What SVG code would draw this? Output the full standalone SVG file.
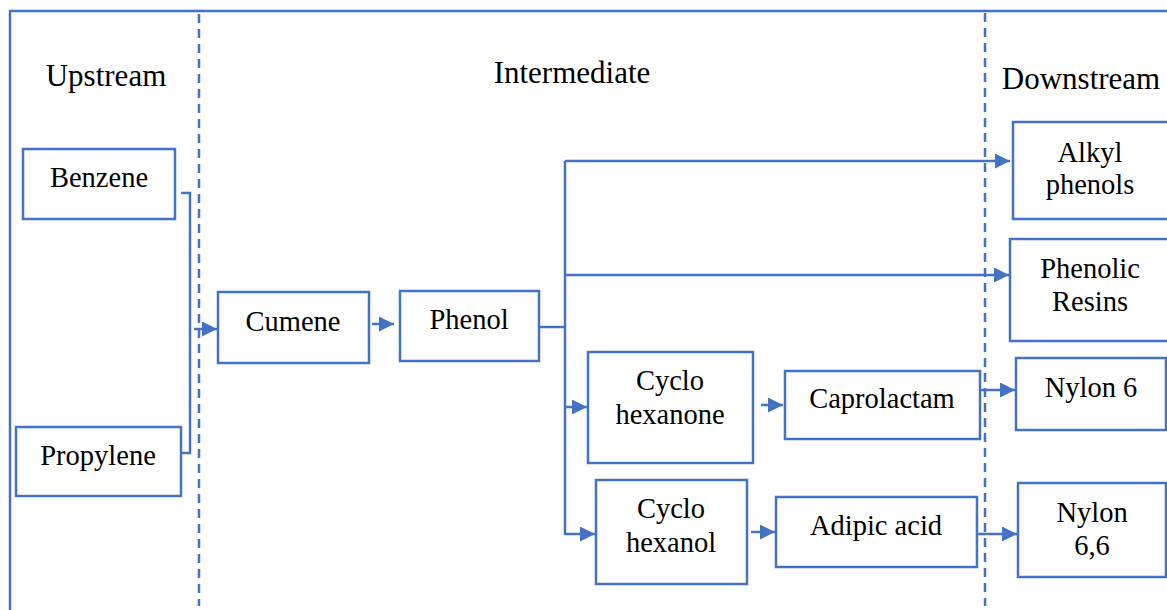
<svg xmlns="http://www.w3.org/2000/svg" width="1167" height="610" viewBox="0 0 1167 610" font-family="'Liberation Serif', 'Times New Roman', serif">
<defs>
<style>
.box{fill:#fff;stroke:#4472C4;stroke-width:2.5}
.ln{fill:none;stroke:#4472C4;stroke-width:2.5}
.dash{fill:none;stroke:#4472C4;stroke-width:2.5;stroke-dasharray:9 6}
text{font-family:'Liberation Serif', serif;fill:#000;text-anchor:middle}
.t{font-size:28.5px}
.h{font-size:31px}
</style>
<marker id="ah" viewBox="0 0 10 10" refX="10" refY="5" markerWidth="6.5" markerHeight="6" markerUnits="strokeWidth" orient="auto">
<path d="M0,0 L10,5 L0,10 z" fill="#4472C4"/>
</marker>
</defs>
<rect width="1167" height="610" fill="#fff"/>
<g id="frame">
<path class="ln" d="M10,610 V11 H1167"/>
<path class="dash" d="M199,14 V606"/>
<path class="dash" d="M985,13 V606"/>
<text class="h" x="106" y="86">Upstream</text>
<text class="h" x="572" y="83">Intermediate</text>
<text class="h" x="1081" y="89">Downstream</text>
</g>
<g id="connectors">
<path class="ln" d="M181,193 H190 V453 H181"/>
<path class="ln" marker-end="url(#ah)" d="M194,329 H217"/>
<path class="ln" marker-end="url(#ah)" d="M372,324 H394"/>
<path class="ln" d="M539,327 H565"/>
<path class="ln" d="M565,535 V161"/>
<path class="ln" marker-end="url(#ah)" d="M565,161 H1010"/>
<path class="ln" marker-end="url(#ah)" d="M565,275 H1009"/>
<path class="ln" marker-end="url(#ah)" d="M565,407 H587"/>
<path class="ln" marker-end="url(#ah)" d="M565,534 H595"/>
<path class="ln" marker-end="url(#ah)" d="M761,405 H783"/>
<path class="ln" marker-end="url(#ah)" d="M751,532 H775"/>
<path class="ln" marker-end="url(#ah)" d="M980,390 H1015"/>
<path class="ln" marker-end="url(#ah)" d="M977,534 H1017"/>
</g>
<g id="benzene"><rect class="box" x="23" y="149" width="152" height="70"/><text class="t" x="99" y="187">Benzene</text></g>
<g id="propylene"><rect class="box" x="16" y="427" width="165" height="69"/><text class="t" x="98" y="465">Propylene</text></g>
<g id="cumene"><rect class="box" x="218" y="292" width="151" height="71"/><text class="t" x="293" y="331">Cumene</text></g>
<g id="phenol"><rect class="box" x="400" y="291" width="139" height="70"/><text class="t" x="469" y="329">Phenol</text></g>
<g id="cyclohexanone"><rect class="box" x="588" y="352" width="165" height="111"/><text class="t" x="670" y="390">Cyclo</text><text class="t" x="670" y="424">hexanone</text></g>
<g id="caprolactam"><rect class="box" x="785" y="371" width="195" height="68"/><text class="t" x="882" y="408">Caprolactam</text></g>
<g id="cyclohexanol"><rect class="box" x="596" y="480" width="151" height="104"/><text class="t" x="671" y="518">Cyclo</text><text class="t" x="671" y="552">hexanol</text></g>
<g id="adipic"><rect class="box" x="776" y="497" width="201" height="70"/><text class="t" x="876" y="535">Adipic acid</text></g>
<g id="alkylphenols"><rect class="box" x="1013" y="122" width="156" height="97"/><text class="t" x="1090" y="162">Alkyl</text><text class="t" x="1090" y="194">phenols</text></g>
<g id="phenolicresins"><rect class="box" x="1010" y="239" width="159" height="102"/><text class="t" x="1090" y="278">Phenolic</text><text class="t" x="1090" y="311">Resins</text></g>
<g id="nylon6"><rect class="box" x="1016" y="358" width="150" height="72"/><text class="t" x="1091" y="397">Nylon 6</text></g>
<g id="nylon66"><rect class="box" x="1018" y="483" width="148" height="94"/><text class="t" x="1092" y="522">Nylon</text><text class="t" x="1092" y="555">6,6</text></g>
</svg>
